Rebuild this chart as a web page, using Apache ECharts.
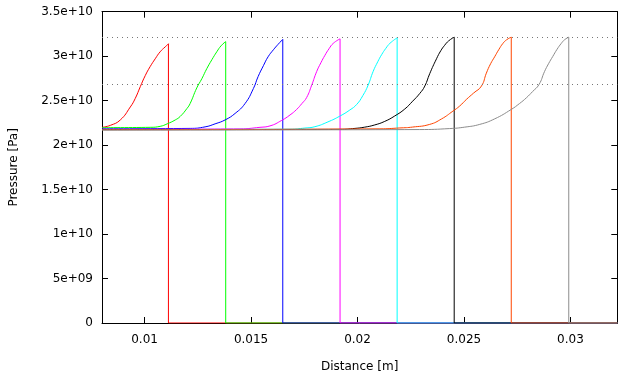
<!DOCTYPE html>
<html>
<head>
<meta charset="utf-8">
<script src="https://cdn.jsdelivr.net/npm/echarts@6/dist/echarts.min.js"></script>
<style>
  html, body { margin: 0; padding: 0; background: #fff; }
  #chart { width: 627px; height: 378px; }
</style>
</head>
<body>
<div id="chart"></div>
<script>
// pressure profiles, distance in m, pressure in 1e10 Pa
const redX = [0.00800, 0.00839, 0.00886, 0.00933, 0.00956, 0.00980, 0.01003, 0.01026, 0.01050, 0.01073, 0.01097, 0.01112];
const redP = [2.200, 2.222, 2.283, 2.429, 2.524, 2.658, 2.781, 2.882, 2.971, 3.049, 3.105, 3.139];

const greenX = [0.00800, 0.01026, 0.01073, 0.01106, 0.01144, 0.01167, 0.01199, 0.01214, 0.01245, 0.01269, 0.01292, 0.01316, 0.01339, 0.01359, 0.01381];
const greenP = [2.196, 2.200, 2.211, 2.239, 2.283, 2.322, 2.412, 2.468, 2.643, 2.747, 2.859, 2.960, 3.049, 3.116, 3.164];

const blueX = [0.00800, 0.01214, 0.01284, 0.01331, 0.01378, 0.01425, 0.01472, 0.01511, 0.01533, 0.01558, 0.01580, 0.01605, 0.01627, 0.01649];
const blueP = [2.183, 2.188, 2.205, 2.239, 2.283, 2.356, 2.468, 2.636, 2.770, 2.893, 2.993, 3.072, 3.133, 3.189];

const magentaX = [0.00800, 0.01448, 0.01542, 0.01589, 0.01644, 0.01683, 0.01714, 0.01739, 0.01761, 0.01785, 0.01808, 0.01828, 0.01847, 0.01866, 0.01886, 0.01918];
const magentaP = [2.177, 2.183, 2.200, 2.216, 2.278, 2.339, 2.401, 2.468, 2.535, 2.675, 2.826, 2.926, 3.010, 3.083, 3.144, 3.195];

const cyanX = [0.00800, 0.01683, 0.01753, 0.01800, 0.01861, 0.01917, 0.01964, 0.01996, 0.02025, 0.02050, 0.02073, 0.02095, 0.02113, 0.02133, 0.02152, 0.02186];
const cyanP = [2.175, 2.179, 2.192, 2.207, 2.261, 2.326, 2.395, 2.457, 2.557, 2.675, 2.826, 2.937, 3.016, 3.088, 3.144, 3.206];

const blackX = [0.00800, 0.01917, 0.01988, 0.02034, 0.02081, 0.02128, 0.02175, 0.02222, 0.02259, 0.02292, 0.02316, 0.02339, 0.02371, 0.02391, 0.02409, 0.02428, 0.02454];
const blackP = [2.174, 2.177, 2.188, 2.202, 2.227, 2.267, 2.328, 2.406, 2.494, 2.580, 2.664, 2.803, 2.971, 3.061, 3.122, 3.172, 3.214];

const orangeX = [0.00800, 0.02105, 0.02199, 0.02259, 0.02339, 0.02395, 0.02448, 0.02480, 0.02511, 0.02545, 0.02582, 0.02605, 0.02625, 0.02644, 0.02663, 0.02683, 0.02700, 0.02722];
const orangeP = [2.173, 2.183, 2.193, 2.203, 2.233, 2.295, 2.382, 2.440, 2.513, 2.585, 2.664, 2.809, 2.915, 2.993, 3.072, 3.144, 3.184, 3.214];

const grayX = [0.00800, 0.02292, 0.02433, 0.02503, 0.02574, 0.02644, 0.02722, 0.02761, 0.02793, 0.02822, 0.02852, 0.02878, 0.02897, 0.02917, 0.02937, 0.02957, 0.02972, 0.02992];
const grayP = [2.169, 2.175, 2.186, 2.202, 2.233, 2.295, 2.401, 2.468, 2.532, 2.602, 2.680, 2.826, 2.915, 2.997, 3.077, 3.144, 3.184, 3.214];

// dotted reference levels (1e10 Pa)
const refLevels = [3.215, 2.680];

const xMin = 0.008;
const xMax = 0.0322;
const yTicks = [0, 0.5, 1, 1.5, 2, 2.5, 3, 3.5];

const profiles = [
  { x: redX, p: redP, color: '#ff0000' },
  { x: greenX, p: greenP, color: '#00ff00' },
  { x: blueX, p: blueP, color: '#0000ff' },
  { x: magentaX, p: magentaP, color: '#ff00ff' },
  { x: cyanX, p: cyanP, color: '#00ffff' },
  { x: blackX, p: blackP, color: '#000000' },
  { x: orangeX, p: orangeP, color: '#ff4500' },
  { x: grayX, p: grayP, color: '#8c8c8c' }
];

// gnuplot style labels: 5e+09, 1.5e+10
function expLabel(v) {
  if (v === 0) return '0';
  return v.toExponential().replace(/e([+-])(\d+)$/, function (m, s, d) {
    return 'e' + s + (d.length < 2 ? '0' + d : d);
  });
}

const font = 'DejaVu Sans';
const E = 1e10;

let series = [];
profiles.forEach(function (pr) {
  let rise = pr.x.map(function (x, i) { return [x, pr.p[i] * E]; });
  let front = pr.x[pr.x.length - 1];
  let peak = pr.p[pr.p.length - 1];
  // profile up to the front
  series.push({
    type: 'line',
    data: rise,
    showSymbol: false,
    symbol: 'none',
    smooth: 0.5,
    lineStyle: { color: pr.color, width: 1 },
    silent: true,
    z: 3
  });
  // shock front: drop to zero, then zero to the end
  series.push({
    type: 'line',
    data: [[front, peak * E], [front, 0], [xMax, 0]],
    showSymbol: false,
    symbol: 'none',
    lineStyle: { color: pr.color, width: 1 },
    silent: true,
    z: 3
  });
});

series.push({
  type: 'line',
  data: [],
  symbol: 'none',
  markLine: {
    silent: true,
    symbol: ['none', 'none'],
    label: { show: false },
    lineStyle: { color: '#777', width: 1, type: [1, 4] },
    data: refLevels.map(function (v) { return { yAxis: v * E }; })
  },
  z: 2
});

const tickStyle = { show: true, inside: true, length: 6, lineStyle: { color: '#000', width: 1 } };
const lineBlack = { show: true, onZero: false, lineStyle: { color: '#000', width: 1 } };

let option = {
  animation: false,
  backgroundColor: '#fff',
  grid: { left: 101.7, right: 9.7, top: 11.7, bottom: 53.3, containLabel: false },
  xAxis: [
    {
      type: 'value',
      min: xMin,
      max: xMax,
      splitNumber: 5,
      name: 'Distance [m]',
      nameLocation: 'middle',
      nameGap: 38,
      nameTextStyle: { fontFamily: font, fontSize: 12, color: '#000' },
      axisLine: lineBlack,
      axisTick: tickStyle,
      splitLine: { show: false },
      axisLabel: {
        fontFamily: font, fontSize: 12, color: '#000', margin: 11,
        showMinLabel: false, showMaxLabel: false
      }
    },
    {
      type: 'value',
      position: 'top',
      min: xMin,
      max: xMax,
      splitNumber: 5,
      axisLine: lineBlack,
      axisTick: tickStyle,
      splitLine: { show: false },
      axisLabel: { show: false }
    }
  ],
  yAxis: [
    {
      type: 'value',
      min: yTicks[0] * E,
      max: yTicks[yTicks.length - 1] * E,
      interval: (yTicks[1] - yTicks[0]) * E,
      name: 'Pressure [Pa]',
      nameLocation: 'middle',
      nameGap: 82,
      nameTextStyle: { fontFamily: font, fontSize: 12, color: '#000' },
      axisLine: lineBlack,
      axisTick: tickStyle,
      splitLine: { show: false },
      axisLabel: { fontFamily: font, fontSize: 12, color: '#000', margin: 9, formatter: expLabel }
    },
    {
      type: 'value',
      position: 'right',
      min: yTicks[0] * E,
      max: yTicks[yTicks.length - 1] * E,
      interval: (yTicks[1] - yTicks[0]) * E,
      axisLine: lineBlack,
      axisTick: tickStyle,
      splitLine: { show: false },
      axisLabel: { show: false }
    }
  ],
  series: series
};

let myChart = echarts.init(document.getElementById('chart'), null, { renderer: 'canvas' });
myChart.setOption(option);
</script>
</body>
</html>
